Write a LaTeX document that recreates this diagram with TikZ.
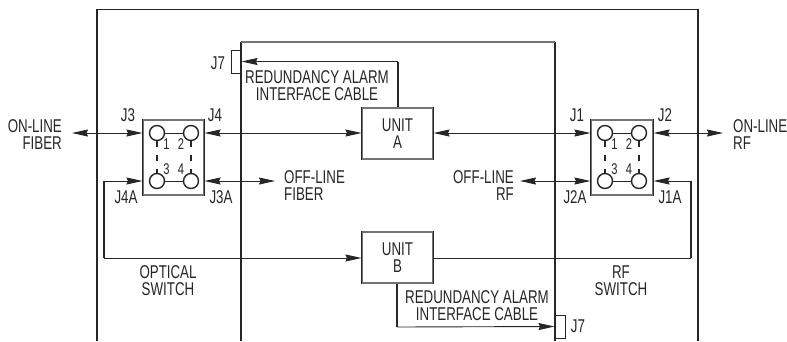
\documentclass[tikz,border=0pt]{standalone}
\usepackage{fontspec}
\setmainfont[FakeStretch=0.72]{Liberation Sans}
\usetikzlibrary{arrows.meta}
\definecolor{ink}{gray}{0.15}
\definecolor{edge}{gray}{0.45}
\tikzset{
  x=1pt,y=-1pt,
  wire/.style={draw=ink,line width=0.9pt},
  tipped/.style={wire,-{Stealth[length=16pt,width=7pt,inset=1.5pt]}},
  bothtip/.style={wire,{Stealth[length=16pt,width=7pt,inset=1.5pt]}-{Stealth[length=16pt,width=7pt,inset=1.5pt]}},
  heavy/.style={draw=ink,line width=2.2pt},
  side/.style={draw=ink,line width=1.8pt},
  lab/.style={inner sep=0pt,align=center,text=ink,font=\fontsize{18.5}{17.5}\selectfont},
  num/.style={inner sep=0pt,text=ink,font=\fontsize{15.5}{15.5}\selectfont},
  boxed/.style={draw=edge,line width=1.1pt,inner sep=0pt,minimum width=#1,lab},
  port/.style={draw=ink,line width=1.4pt,fill=white,circle,minimum size=15pt,inner sep=0pt},
  link/.style={draw=ink,line width=2pt,dash pattern=on 6pt off 8pt},
}
\begin{document}
\begin{tikzpicture}
\useasboundingbox (0,0) rectangle (787,341);
\fill[white] (0,0) rectangle (787,341);
% frames
\coordinate (oa) at (97,341); \coordinate (ob) at (97,9); \coordinate (oc) at (698,9); \coordinate (od) at (698,341);
\coordinate (ia) at (241,341); \coordinate (ib) at (241,42); \coordinate (ic) at (555,42); \coordinate (id) at (555,341);
\draw[heavy] (oa) -- (ob);
\draw[heavy] (oc) -- (od);
\draw[draw=ink,line width=0.9pt] (ob) -- (oc);
\draw[heavy] (ia) -- (ib);
\draw[heavy] (ic) -- (id);
\draw[draw=edge,line width=1.1pt] (ib) -- (ic);
% boxes
\node[boxed=61pt,minimum height=75pt] (osw) at (173.5,157.5) {};
\node[boxed=62pt,minimum height=75pt] (rsw) at (622,157.5) {};
\node[boxed=71pt,minimum height=51pt] (ua) at (397.5,133.5) {UNIT\\A};
\node[boxed=71pt,minimum height=51pt] (ub) at (397.5,257.5) {UNIT\\B};
\foreach \n in {osw,rsw,ua,ub}{
  \draw[side] (\n.north west) -- (\n.south west);
  \draw[side] (\n.north east) -- (\n.south east);
}
% ports
\node[port] (o1) at (157,133) {};
\node[port] (o2) at (191,133) {};
\node[port] (o3) at (157,181) {};
\node[port] (o4) at (191,181) {};
\node[port] (r1) at (605,133) {};
\node[port] (r2) at (639,133) {};
\node[port] (r3) at (605,181) {};
\node[port] (r4) at (639,181) {};
\draw[wire] (o1) -- (o2); \draw[wire] (o3) -- (o4);
\draw[wire] (r1) -- (r2); \draw[wire] (r3) -- (r4);
\draw[link] (o1) -- (o3); \draw[link] (o2) -- (o4);
\draw[link] (r1) -- (r3); \draw[link] (r2) -- (r4);
\node[num] at (166.5,144) {1};
\node[num] at (181,144) {2};
\node[num] at (166.5,169) {3};
\node[num] at (181,169) {4};
\node[num] at (614.5,144) {1};
\node[num] at (629,144) {2};
\node[num] at (614.5,169) {3};
\node[num] at (629,169) {4};
% free ends
\coordinate (fl) at (72,133);
\coordinate (fr) at (723,133);
\coordinate (ofb) at (275,181);
\coordinate (orf) at (520,181);
\coordinate (ol) at (104,181);
\coordinate (ll) at (104,258);
\coordinate (rl) at (691,181);
\coordinate (rr) at (691,258);
% connectors
\draw[bothtip] (fl) -- (o1 -| osw.west);
\draw[bothtip] (o2 -| osw.east) -- (ua.west |- o2);
\draw[bothtip] (ua.east |- r1) -- (r1 -| rsw.west);
\draw[bothtip] (r2 -| rsw.east) -- (fr);
\draw[bothtip] (o4 -| osw.east) -- (ofb);
\draw[bothtip] (orf) -- (r3 -| rsw.west);
\draw[wire,line width=1.4pt] (ll) -- (ol);
\draw[tipped] (ol) -- (o3 -| osw.west);
\draw[tipped] (ll) -- (ub.west |- ll);
\draw[wire,line width=1.4pt] (rr) -- (rl);
\draw[tipped] (rl) -- (r4 -| rsw.east);
\draw[wire] (ub.east |- rr) -- (rr);
% J7 connectors
\node[draw=ink,line width=1pt,minimum width=10pt,minimum height=23pt,inner sep=0pt] (j7a) at (236,61.5) {};
\node[draw=ink,line width=1pt,minimum width=10pt,minimum height=23pt,inner sep=0pt] (j7b) at (560,326.5) {};
\coordinate (ca) at (398,61.5);
\coordinate (cb) at (397,327);
\draw[wire,line width=1.4pt] (ua.north -| ca) -- (ca);
\draw[tipped] (ca) -- (j7a.east);
\draw[wire,line width=1.4pt] (ub.south -| cb) -- (cb);
\draw[tipped] (cb) -- (j7b.west);
% labels
\node[lab] at (128,115) {J3};
\node[lab] at (215,115) {J4};
\node[lab] at (126,197) {J4A};
\node[lab] at (221,197) {J3A};
\node[lab] at (577,115) {J1};
\node[lab] at (665,115) {J2};
\node[lab] at (575,197) {J2A};
\node[lab] at (670,197) {J1A};
\node[lab,align=right,anchor=east] at (62,134.5) {ON-LINE\\FIBER};
\node[lab,align=left,anchor=west] at (733,134.5) {ON-LINE\\RF};
\node[lab,align=left,anchor=west] at (284,185.5) {OFF-LINE\\FIBER};
\node[lab,align=right,anchor=east] at (514,185.5) {OFF-LINE\\RF};
\node[lab] at (168,280.5) {OPTICAL\\SWITCH};
\node[lab] at (621,280.5) {RF\\SWITCH};
\node[lab] at (317,85.5) {REDUNDANCY ALARM\\INTERFACE CABLE};
\node[lab] at (477,305.5) {REDUNDANCY ALARM\\INTERFACE CABLE};
\node[lab] at (218,63) {J7};
\node[lab] at (578,326) {J7};
\end{tikzpicture}
\end{document}
